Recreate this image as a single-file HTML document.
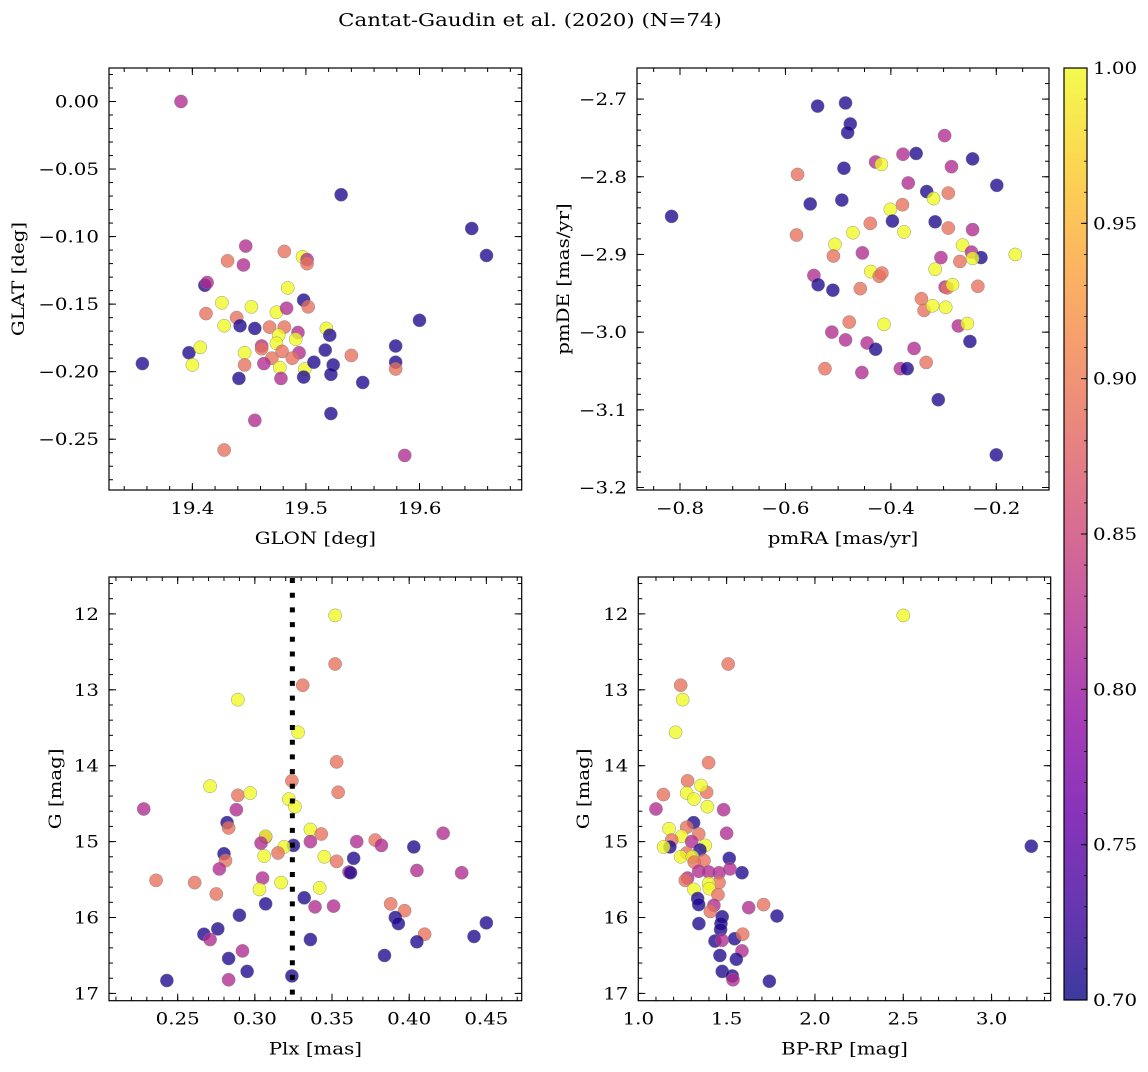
<!DOCTYPE html>
<html><head><meta charset="utf-8"><style>
html,body{margin:0;padding:0;background:#fff;}
svg text{font-family:"DejaVu Serif","Liberation Serif",serif;fill:#000;}
</style></head><body>
<svg id="fig" width="1148" height="1067" viewBox="0 0 1148 1067" xmlns="http://www.w3.org/2000/svg">
<defs>
<linearGradient id="plasma" x1="0" y1="1" x2="0" y2="0">
<stop offset="0" stop-color="#0d0887"/><stop offset="0.1" stop-color="#41049d"/><stop offset="0.2" stop-color="#6a00a8"/><stop offset="0.3" stop-color="#8f0da4"/><stop offset="0.4" stop-color="#b12a90"/><stop offset="0.5" stop-color="#cc4778"/><stop offset="0.6" stop-color="#e16462"/><stop offset="0.7" stop-color="#f2844b"/><stop offset="0.8" stop-color="#fca636"/><stop offset="0.9" stop-color="#fcce25"/><stop offset="1" stop-color="#f0f921"/>
</linearGradient>
</defs>
<text transform="translate(530 26) scale(1.22 1)" x="0" y="0" text-anchor="middle" font-size="17.5">Cantat-Gaudin et al. (2020) (N=74)</text>
</svg>
<script>
// ---- Panel 1: GLON / GLAT ----
const p1Glon=[19.356,19.397,19.407,19.400,19.411,19.413,19.431,19.447,19.445,19.481,19.497,19.501,19.501,19.412,19.426,19.428,19.439,19.442,19.452,19.455,19.446,19.446,19.441,19.484,19.498,19.502,19.474,19.483,19.468,19.481,19.476,19.493,19.491,19.474,19.461,19.461,19.479,19.494,19.470,19.488,19.463,19.477,19.478,19.499,19.498,19.507,19.518,19.521,19.517,19.524,19.522,19.540,19.550,19.455,19.522,19.579,19.579,19.579,19.390,19.531,19.646,19.659,19.600,19.428,19.587];
const p1Glat=[-0.194,-0.186,-0.182,-0.195,-0.136,-0.134,-0.118,-0.107,-0.121,-0.111,-0.115,-0.117,-0.120,-0.157,-0.149,-0.166,-0.160,-0.166,-0.152,-0.168,-0.186,-0.195,-0.205,-0.138,-0.147,-0.152,-0.156,-0.153,-0.167,-0.167,-0.173,-0.171,-0.176,-0.179,-0.181,-0.183,-0.185,-0.186,-0.190,-0.190,-0.194,-0.197,-0.205,-0.198,-0.204,-0.193,-0.168,-0.173,-0.184,-0.195,-0.202,-0.188,-0.208,-0.236,-0.231,-0.181,-0.193,-0.198,0.000,-0.069,-0.094,-0.114,-0.162,-0.258,-0.262];
const p1Prob=[0.71,0.71,1.0,1.0,0.71,0.82,0.89,0.82,0.82,0.89,1.0,0.82,0.89,0.89,1.0,1.0,0.89,0.71,1.0,0.71,1.0,0.89,0.71,1.0,0.71,0.89,1.0,0.82,0.89,0.89,1.0,0.82,1.0,1.0,0.82,0.89,0.89,0.82,0.89,0.89,0.82,1.0,0.82,1.0,0.71,0.71,1.0,0.71,0.71,0.71,0.71,0.89,0.71,0.82,0.71,0.71,0.71,0.89,0.82,0.71,0.71,0.71,0.71,0.89,0.82];
// ---- Panel 2: pmRA / pmDE ----
const p2PmRA=[-0.816,-0.539,-0.486,-0.477,-0.482,-0.298,-0.377,-0.352,-0.245,-0.429,-0.418,-0.577,-0.489,-0.285,-0.199,-0.367,-0.332,-0.319,-0.291,-0.553,-0.493,-0.378,-0.401,-0.397,-0.316,-0.439,-0.291,-0.245,-0.579,-0.472,-0.375,-0.506,-0.509,-0.454,-0.264,-0.247,-0.229,-0.245,-0.164,-0.305,-0.269,-0.546,-0.538,-0.510,-0.438,-0.422,-0.417,-0.458,-0.316,-0.297,-0.293,-0.283,-0.235,-0.342,-0.337,-0.321,-0.296,-0.479,-0.413,-0.272,-0.255,-0.512,-0.486,-0.445,-0.429,-0.356,-0.250,-0.525,-0.455,-0.382,-0.369,-0.333,-0.310,-0.200];
const p2PmDE=[-2.851,-2.709,-2.705,-2.732,-2.743,-2.747,-2.771,-2.770,-2.777,-2.781,-2.784,-2.797,-2.789,-2.787,-2.811,-2.808,-2.819,-2.828,-2.821,-2.835,-2.830,-2.836,-2.842,-2.857,-2.858,-2.860,-2.866,-2.868,-2.875,-2.872,-2.871,-2.887,-2.902,-2.898,-2.888,-2.897,-2.904,-2.905,-2.900,-2.904,-2.909,-2.927,-2.939,-2.946,-2.922,-2.928,-2.924,-2.944,-2.919,-2.942,-2.943,-2.939,-2.941,-2.957,-2.972,-2.966,-2.968,-2.987,-2.990,-2.992,-2.989,-3.000,-3.010,-3.014,-3.022,-3.021,-3.012,-3.047,-3.052,-3.047,-3.047,-3.039,-3.087,-3.158];
const p2Prob=[0.71,0.71,0.71,0.71,0.71,0.82,0.82,0.71,0.71,0.82,1.0,0.89,0.71,0.82,0.71,0.82,0.71,1.0,0.89,0.71,0.71,0.89,1.0,0.71,0.71,0.89,0.89,0.82,0.89,1.0,1.0,1.0,0.89,0.82,1.0,0.82,0.71,1.0,1.0,0.82,0.89,0.82,0.71,0.71,1.0,0.89,0.89,0.89,1.0,0.82,0.89,1.0,0.89,0.89,0.89,1.0,1.0,0.89,1.0,0.82,1.0,0.82,0.82,0.82,0.71,0.82,0.71,0.89,0.82,0.82,0.71,0.89,0.71,0.71];
// ---- Panel 3: Plx / G ----
const p3Plx=[0.352,0.352,0.331,0.289,0.328,0.353,0.324,0.354,0.271,0.289,0.297,0.322,0.326,0.228,0.288,0.282,0.283,0.336,0.343,0.422,0.307,0.307,0.304,0.336,0.325,0.319,0.366,0.378,0.382,0.403,0.280,0.281,0.315,0.306,0.345,0.353,0.364,0.277,0.361,0.362,0.405,0.434,0.236,0.261,0.305,0.317,0.303,0.342,0.275,0.332,0.307,0.339,0.351,0.388,0.397,0.290,0.391,0.393,0.450,0.276,0.267,0.271,0.410,0.405,0.442,0.336,0.292,0.283,0.384,0.295,0.324,0.243,0.283];
const p3G=[12.02,12.66,12.94,13.13,13.56,13.95,14.20,14.35,14.27,14.39,14.36,14.44,14.54,14.57,14.58,14.75,14.82,14.84,14.90,14.89,14.94,14.93,15.02,15.00,15.05,15.07,15.00,14.98,15.05,15.07,15.16,15.25,15.15,15.19,15.20,15.26,15.22,15.36,15.40,15.41,15.38,15.41,15.51,15.54,15.48,15.54,15.63,15.61,15.69,15.74,15.82,15.86,15.85,15.82,15.91,15.97,16.00,16.08,16.07,16.15,16.22,16.29,16.22,16.32,16.25,16.29,16.44,16.54,16.50,16.71,16.77,16.83,16.82];
const p3Prob=[1.0,0.89,0.89,1.0,1.0,0.89,0.89,0.89,1.0,0.89,1.0,1.0,1.0,0.82,0.82,0.71,0.89,1.0,0.89,0.82,0.82,1.0,0.82,0.82,0.71,1.0,0.82,0.89,0.82,0.71,0.71,0.89,0.89,1.0,1.0,0.89,0.71,0.82,0.82,0.71,0.82,0.82,0.89,0.89,0.82,1.0,1.0,1.0,0.89,0.71,0.71,0.82,0.82,0.89,0.89,0.71,0.71,0.71,0.71,0.71,0.71,0.82,0.89,0.71,0.71,0.71,0.82,0.71,0.71,0.71,0.71,0.71,0.82];
const p3PlxLine=[0.3243];
// ---- Panel 4: BP-RP / G ----
const p4Color=[2.500,1.509,1.240,1.251,1.211,1.398,1.279,1.387,1.355,1.274,1.315,1.391,1.142,1.100,1.483,1.313,1.274,1.174,1.342,1.500,1.245,1.302,1.189,1.379,1.179,1.143,1.349,1.274,1.240,1.306,1.515,1.372,1.317,1.587,1.519,1.342,1.398,1.457,1.279,1.266,1.457,1.398,1.402,1.315,1.451,1.336,1.342,1.428,1.625,1.709,1.408,1.785,1.475,1.343,1.468,1.466,1.545,1.591,1.434,1.474,1.587,1.462,1.555,1.475,1.532,1.536,1.742,3.225];
const p4G=[12.02,12.66,12.94,13.13,13.56,13.96,14.20,14.35,14.26,14.36,14.44,14.54,14.38,14.57,14.58,14.75,14.81,14.83,14.90,14.89,14.93,15.00,14.98,15.05,15.07,15.07,15.11,15.15,15.20,15.20,15.22,15.25,15.27,15.41,15.36,15.39,15.40,15.41,15.48,15.51,15.54,15.55,15.62,15.63,15.70,15.75,15.83,15.84,15.87,15.83,15.92,15.98,15.99,16.08,16.08,16.16,16.28,16.22,16.31,16.30,16.44,16.50,16.55,16.71,16.77,16.82,16.84,15.06];
const p4Prob=[1.0,0.89,0.89,1.0,1.0,0.89,0.89,0.89,1.0,1.0,1.0,1.0,0.89,0.82,0.82,0.71,0.89,1.0,0.89,0.82,1.0,0.82,0.89,1.0,0.71,1.0,0.71,0.89,1.0,1.0,0.71,0.89,0.89,0.71,0.82,0.82,0.82,0.82,0.82,0.89,0.89,1.0,1.0,1.0,0.89,0.71,0.71,0.82,0.82,0.89,0.89,0.71,0.71,0.71,0.71,0.71,0.71,0.89,0.71,0.82,0.82,0.71,0.71,0.71,0.71,0.82,0.71,0.71];
// ---- Colorbar ----
const cbTicks=[0.70,0.75,0.80,0.85,0.90,0.95,1.00];
const cbLabels=["0.70","0.75","0.80","0.85","0.90","0.95","1.00"];

const NS="http://www.w3.org/2000/svg";
const svg=document.getElementById('fig');
const SX=1.2, FS=16.5;
function mk(tag,attrs,parent){const e=document.createElementNS(NS,tag);for(const k in attrs)e.setAttribute(k,attrs[k]);(parent||svg).appendChild(e);return e;}
function txt(parent,x,y,anchor,s,rot){
  const t=mk('text',{x:0,y:0,'text-anchor':anchor,'font-size':FS,transform:'translate('+x+' '+y+')'+(rot?' rotate(-90)':'')+' scale('+SX+' 1)'},parent);
  t.textContent=s;return t;
}
const stops=[[13,8,135],[65,4,157],[106,0,168],[143,13,164],[177,42,144],[204,71,120],[225,100,98],[242,132,75],[252,166,54],[252,206,37],[240,249,33]];
function plasma(v){let t=(v-0.7)/0.3;t=Math.max(0,Math.min(1,t));const f=t*10,i=Math.min(9,Math.floor(f)),r=f-i;const a=stops[i],b=stops[i+1];return 'rgb('+a.map((c,k)=>Math.round(c+(b[k]-c)*r)).join(',')+')';}

function panel(cfg){
  const {name,L,T,R,B,xmin,xmax,ymin,ymax,xs,ys,ps,xMaj,xMin,yMaj,yMin,xDec,yDec,xLabel,yLabel,yLabelX,invertY}=cfg;
  const X=v=>L+(v-xmin)/(xmax-xmin)*(R-L);
  const Y=v=>invertY?T+(v-ymin)/(ymax-ymin)*(B-T):B-(v-ymin)/(ymax-ymin)*(B-T);
  const g=mk('g',{});
  
  
  const pts=mk('g',{},g);
  
  
  for(let i=0;i<xs.length;i++){
    const c=mk('circle',{cx:X(xs[i]),cy:Y(ys[i]),r:6.6,fill:plasma(ps[i]),'fill-opacity':0.78,stroke:'#808080','stroke-opacity':0.8,'stroke-width':0.5},pts);
    
    
  }
  const ax=mk('g',{},g);
  
  
  function ticks(a,b,step,len,isX,label,dec){
    const n0=Math.ceil(a/step-1e-6),n1=Math.floor(b/step+1e-6);
    for(let n=n0;n<=n1;n++){
      const v=+(n*step).toFixed(6);
      const s=(v<0?'\u2212':'')+Math.abs(v).toFixed(dec);
      if(isX){const x=X(v);mk('line',{x1:x,y1:B,x2:x,y2:B-len,stroke:'#000','stroke-width':1},ax);mk('line',{x1:x,y1:T,x2:x,y2:T+len,stroke:'#000','stroke-width':1},ax);
        if(label){const t=txt(ax,x,B+24,'middle',s);}}
      else{const y=Y(v);mk('line',{x1:L,y1:y,x2:L+len,y2:y,stroke:'#000','stroke-width':1},ax);mk('line',{x1:R,y1:y,x2:R-len,y2:y,stroke:'#000','stroke-width':1},ax);
        if(label){const t=txt(ax,L-10,y+6,'end',s);}}
    }
  }
  const xa=Math.min(xmin,xmax),xb=Math.max(xmin,xmax),ya=Math.min(ymin,ymax),yb=Math.max(ymin,ymax);
  ticks(xa,xb,xMin,4,true,false);ticks(xa,xb,xMaj,7,true,true,xDec);
  ticks(ya,yb,yMin,4,false,false);ticks(ya,yb,yMaj,7,false,true,yDec);
  mk('rect',{x:L,y:T,width:R-L,height:B-T,fill:'none',stroke:'#000','stroke-width':1.2},ax);
  const xl=txt(ax,(L+R)/2,B+54,'middle',xLabel);
  
  
  const yl=mk('text',{x:0,y:0,'text-anchor':'middle','font-size':FS,transform:'translate('+yLabelX+' '+((T+B)/2)+') rotate(-90) scale('+SX+' 1)'},ax);
  yl.textContent=yLabel;
  
  
  return {X,Y,g};
}

panel({name:'glon-glat-panel',L:109,T:68,R:521.7,B:490,xmin:19.3266,xmax:19.690,ymin:-0.2876,ymax:0.0248,xs:p1Glon,ys:p1Glat,ps:p1Prob,xMaj:0.1,xMin:0.02,yMaj:0.05,yMin:0.01,xDec:1,yDec:2,xLabel:'GLON [deg]',yLabel:'GLAT [deg]',yLabelX:24});
panel({name:'proper-motion-panel',L:637,T:68,R:1049,B:490,xmin:-0.8816,xmax:-0.1,ymin:-3.2032,ymax:-2.660,xs:p2PmRA,ys:p2PmDE,ps:p2Prob,xMaj:0.2,xMin:0.05,yMaj:0.1,yMin:0.02,xDec:1,yDec:1,xLabel:'pmRA [mas/yr]',yLabel:'pmDE [mas/yr]',yLabelX:569});
const p3=panel({name:'parallax-panel',L:109,T:577,R:521.7,B:1000.7,xmin:0.2055,xmax:0.4729,ymin:11.514,ymax:17.096,xs:p3Plx,ys:p3G,ps:p3Prob,xMaj:0.05,xMin:0.01,yMaj:1,yMin:0.2,xDec:2,yDec:0,xLabel:'Plx [mas]',yLabel:'G [mag]',yLabelX:61,invertY:true});
panel({name:'cmd-panel',L:638.3,T:577,R:1050.7,B:1000.7,xmin:1.0,xmax:3.3347,ymin:11.514,ymax:17.096,xs:p4Color,ys:p4G,ps:p4Prob,xMaj:0.5,xMin:0.1,yMaj:1,yMin:0.2,xDec:1,yDec:0,xLabel:'BP-RP [mag]',yLabel:'G [mag]',yLabelX:589,invertY:true});

for(const v of p3PlxLine){
  const ln=mk('line',{x1:p3.X(v),y1:578,x2:p3.X(v),y2:1000,stroke:'#000','stroke-width':5,'stroke-dasharray':'5 9.7'});
  
  
}

const cb=mk('g',{});


const cT=68,cB=1000,cL=1064,cR=1087;
mk('rect',{x:cL,y:cT,width:cR-cL,height:cB-cT,fill:'url(#plasma)','fill-opacity':0.8,stroke:'none'},cb);
mk('rect',{x:cL,y:cT,width:cR-cL,height:cB-cT,fill:'none',stroke:'#000','stroke-width':1.2},cb);
const CY=v=>cB-(v-0.7)/0.3*(cB-cT);
for(let v=0.7;v<=1.0001;v+=0.01){const y=CY(v);mk('line',{x1:cR,y1:y,x2:cR-3,y2:y,stroke:'#000','stroke-width':0.8},cb);}
cbTicks.forEach((v,i)=>{const y=CY(v);mk('line',{x1:cR,y1:y,x2:cR-6,y2:y,stroke:'#000','stroke-width':1},cb);
  const t=txt(cb,cR+6,y+6,'start',cbLabels[i]);
  
  
});
</script>
</body></html>
